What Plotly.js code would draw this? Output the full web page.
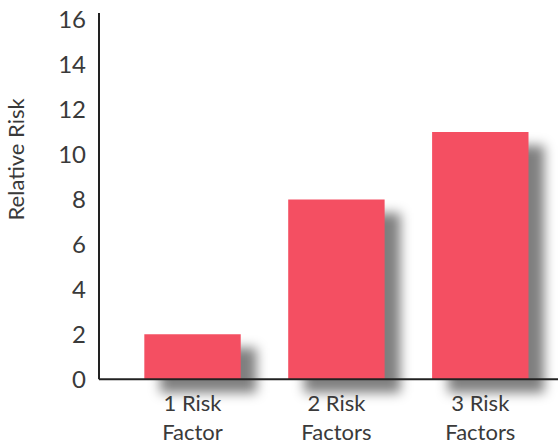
<!DOCTYPE html>
<html>
<head>
<meta charset="utf-8">
<script src="https://cdn.plot.ly/plotly-3.0.1.min.js"></script>
<style>
html,body{margin:0;padding:0;background:#fff;}
#chart{width:558px;height:446px;}
</style>
</head>
<body>
<svg width="0" height="0" style="position:absolute">
  <defs>
    <filter id="softBlur" filterUnits="userSpaceOnUse" x="-300" y="-300" width="1400" height="1400">
      <feGaussianBlur in="SourceGraphic" stdDeviation="6"/>
    </filter>
  </defs>
</svg>
<div id="chart"></div>
<script>
const categories = ["1 Risk<br>Factor", "2 Risk<br>Factors", "3 Risk<br>Factors"];
const relativeRisk = [2, 8, 11];
const yTicks = [0, 2, 4, 6, 8, 10, 12, 14, 16];

const barWidth = 0.67;
const shadowShiftX = 0.11;  // style: drop-shadow offset (category units)
const shadowShiftY = 0.6;   // style: drop-shadow offset (value units)

const shadow = {
  type: 'bar',
  x: [0, 1, 2],
  y: relativeRisk,
  base: -shadowShiftY,
  width: barWidth,
  offset: -barWidth / 2 + shadowShiftX,
  marker: {color: 'rgba(0,0,0,0.5)', line: {width: 0}},
  cliponaxis: false,
  hoverinfo: 'none'
};

const bars = {
  type: 'bar',
  x: [0, 1, 2],
  y: relativeRisk,
  width: barWidth,
  offset: -barWidth / 2,
  marker: {color: '#F44F62', line: {width: 0}},
  cliponaxis: false,
  hoverinfo: 'none'
};

const fam = 'Lato, "Open Sans", sans-serif';
const txt = '#3a3a3a';

const layout = {
  width: 558, height: 446,
  margin: {l: 99, r: 0, t: 13, b: 50},
  paper_bgcolor: '#fff', plot_bgcolor: 'rgba(0,0,0,0)',
  showlegend: false,
  barmode: 'overlay',
  font: {family: fam, color: txt, size: 22},
  xaxis: {
    range: [-0.65, 2.54],
    tickvals: [0, 1, 2],
    ticktext: categories,
    showline: false,
    showgrid: false, zeroline: false, ticks: '',
    ticklabelstandoff: -8,
    tickfont: {family: fam, size: 22, color: txt},
    fixedrange: true
  },
  yaxis: {
    range: [-0.75, 16.3],
    tickvals: yTicks,
    showline: false,
    showgrid: false, zeroline: false,
    ticks: '',
    ticklabelstandoff: 12,
    tickfont: {family: fam, size: 24, color: txt},
    fixedrange: true
  },
  shapes: [
    {type: 'line', xref: 'paper', yref: 'y', x0: 0, x1: 0, y0: 0, y1: 16.3,
     line: {color: '#222', width: 2}, layer: 'above'},
    {type: 'line', xref: 'paper', yref: 'y', x0: 0, x1: 1, y0: 0, y1: 0,
     line: {color: '#222', width: 2}, layer: 'above'}
  ],
  annotations: [{
    text: 'Relative Risk', textangle: -90,
    xref: 'paper', yref: 'paper',
    x: -0.181, y: 0.62, xanchor: 'center', yanchor: 'middle',
    showarrow: false,
    font: {family: fam, size: 22, color: txt}
  }]
};

Plotly.newPlot('chart', [shadow, bars], layout, {staticPlot: true, displayModeBar: false}).then(function(gd){
  gd.querySelectorAll('.cartesianlayer [clip-path]').forEach(function(el){
    el.removeAttribute('clip-path');
  });
  const traces = gd.querySelectorAll('.barlayer .trace.bars');
  if (traces.length) traces[0].setAttribute('filter', 'url(#softBlur)');
});
</script>
</body>
</html>
